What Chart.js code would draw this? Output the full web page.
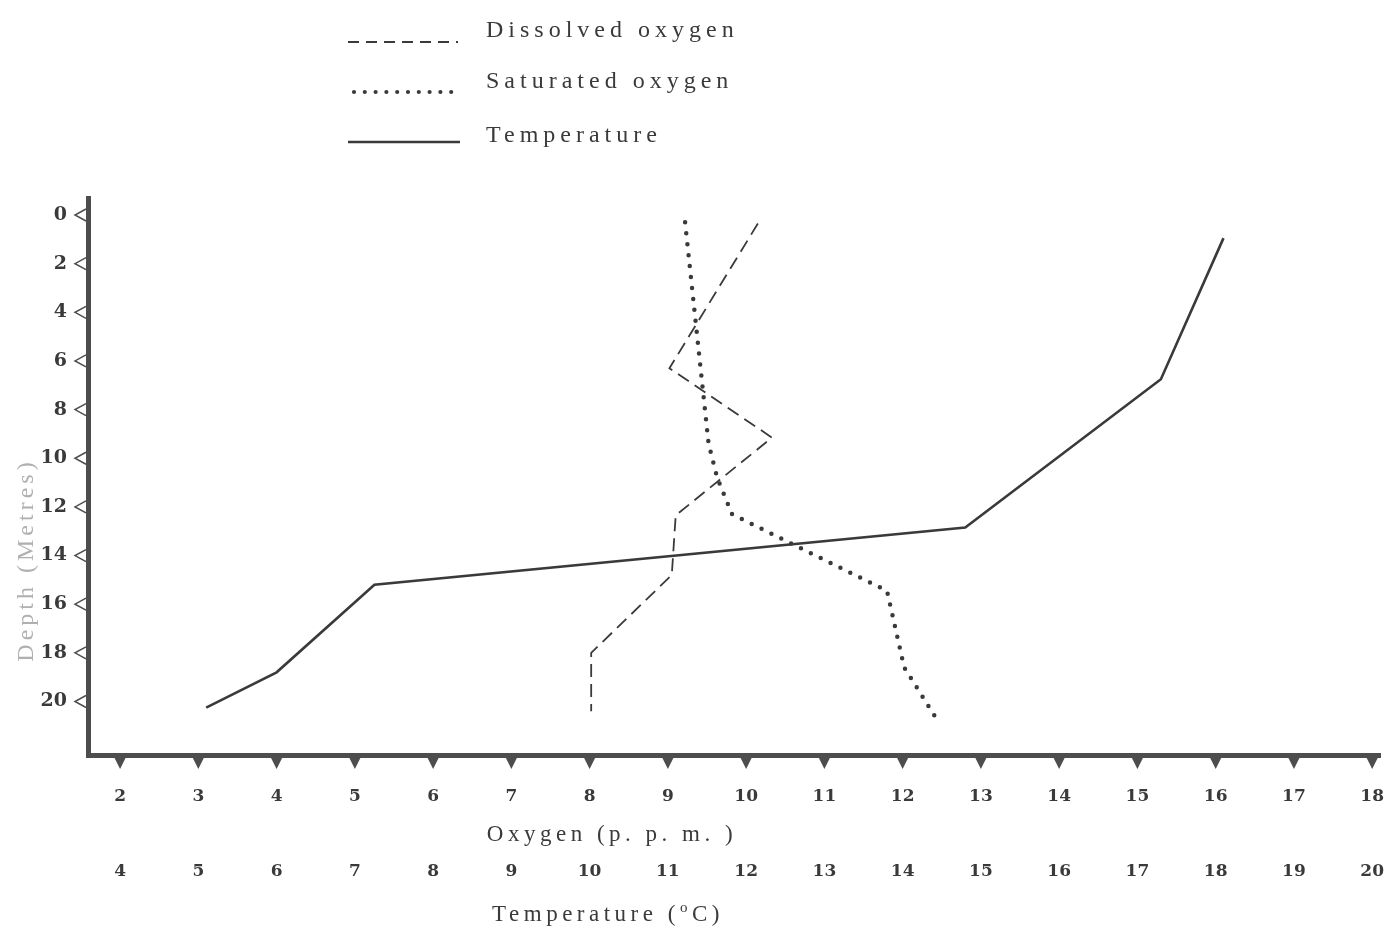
<!DOCTYPE html>
<html>
<head>
<meta charset="utf-8">
<title>Depth profile: oxygen and temperature</title>
<script src="https://cdn.jsdelivr.net/npm/chart.js@4.4.1/dist/chart.umd.min.js"></script>
<style>
  html, body { margin: 0; padding: 0; background: #fff; }
  #wrap { position: relative; width: 1391px; height: 932px; overflow: hidden; }
  #wrap canvas, #wrap svg { position: absolute; left: 0; top: 0; }
  svg text { font-family: 'Liberation Serif', serif; fill: #3a3a3a; }
</style>
</head>
<body>
<div id="wrap">
  <canvas id="profile-chart" width="1391" height="932"></canvas>
  <svg width="1391" height="932" viewBox="0 0 1391 932">
    <!-- legend samples -->
    <line x1="348" y1="42" x2="458" y2="42" stroke="#3a3a3a" stroke-width="1.8" stroke-dasharray="11 7"/>
    <line x1="354" y1="92" x2="462" y2="92" stroke="#3a3a3a" stroke-width="4.2" stroke-linecap="round" stroke-dasharray="0 10.8"/>
    <line x1="348" y1="142" x2="460" y2="142" stroke="#3a3a3a" stroke-width="2.6"/>
    <text x="486" y="37" font-size="24" letter-spacing="5">Dissolved oxygen</text>
    <text x="486" y="88" font-size="24" letter-spacing="5">Saturated oxygen</text>
    <text x="486" y="142" font-size="24" letter-spacing="5">Temperature</text>
    <!-- axis titles -->
    <text x="612" y="841" font-size="23" letter-spacing="4.5" text-anchor="middle">Oxygen (p. p. m. )</text>
    <text x="608" y="921" font-size="23" letter-spacing="4.5" text-anchor="middle">Temperature (<tspan font-size="15" dy="-9">o</tspan><tspan dy="9">C)</tspan></text>
    <text transform="translate(33,560) rotate(-90)" font-size="24" letter-spacing="4" text-anchor="middle" style="fill:#b0b0b0">Depth (Metres)</text>
  </svg>
</div>
<script>
// Tick labels
const depthTicks = [0, 2, 4, 6, 8, 10, 12, 14, 16, 18, 20];
const oxygenTicks = [2, 3, 4, 5, 6, 7, 8, 9, 10, 11, 12, 13, 14, 15, 16, 17, 18];
const temperatureTicks = [4, 5, 6, 7, 8, 9, 10, 11, 12, 13, 14, 15, 16, 17, 18, 19, 20];

// Dissolved oxygen (p.p.m.) against depth (m)
const dissolvedDepth  = [0.35, 6.3, 9.15, 12.35, 14.8, 18.0, 20.4];
const dissolvedOxygen = [10.15, 9.02, 10.33, 9.1, 9.05, 8.02, 8.02];

// Saturated oxygen (p.p.m.) against depth (m)
const saturatedDepth  = [0.3, 9.4, 10.8, 12.3, 15.45, 18.6, 20.65];
const saturatedOxygen = [9.22, 9.52, 9.63, 9.82, 11.8, 12.02, 12.42];

// Temperature (deg C) against depth (m)
const temperatureDepth  = [0.95, 6.75, 12.85, 15.2, 18.8, 20.25];
const temperatureValues = [18.1, 17.3, 14.8, 7.25, 6.0, 5.1];

const INK = '#3a3a3a';
const AXIS = '#4d4d4d';
const SERIF = "'DejaVu Serif', serif";

const toPoints = (xs, ys) => xs.map((x, i) => ({ x, y: ys[i] }));

// keep the horizontal axes from reserving room for edge labels
const fixHeight = h => s => { s.height = h; s.paddingLeft = 0; s.paddingRight = 0; };

// small triangles on both axes, placed through the scales
const tickMarks = {
  id: 'tickMarks',
  afterDraw(chart) {
    const { ctx, chartArea } = chart;
    const x = chart.scales.x;
    const y = chart.scales.y;
    ctx.save();
    ctx.strokeStyle = AXIS;
    ctx.lineWidth = 1.5;
    depthTicks.forEach(v => {
      const py = y.getPixelForValue(v);
      ctx.beginPath();
      ctx.moveTo(chartArea.left - 2, py - 6);
      ctx.lineTo(chartArea.left - 13, py);
      ctx.lineTo(chartArea.left - 2, py + 6);
      ctx.stroke();
    });
    ctx.fillStyle = AXIS;
    oxygenTicks.forEach(v => {
      const px = x.getPixelForValue(v);
      ctx.beginPath();
      ctx.moveTo(px - 6, chartArea.bottom + 2);
      ctx.lineTo(px + 6, chartArea.bottom + 2);
      ctx.lineTo(px, chartArea.bottom + 14);
      ctx.closePath();
      ctx.fill();
    });
    ctx.restore();
  }
};

new Chart(document.getElementById('profile-chart'), {
  type: 'scatter',
  data: {
    datasets: [
      {
        label: 'Dissolved oxygen',
        data: toPoints(dissolvedOxygen, dissolvedDepth),
        xAxisID: 'x', yAxisID: 'y',
        showLine: true,
        borderColor: INK,
        borderWidth: 1.8,
        borderDash: [13, 7],
        pointRadius: 0
      },
      {
        label: 'Saturated oxygen',
        data: toPoints(saturatedOxygen, saturatedDepth),
        xAxisID: 'x', yAxisID: 'y',
        showLine: true,
        borderColor: INK,
        borderWidth: 4.5,
        borderDash: [0, 11],
        borderCapStyle: 'round',
        pointRadius: 0
      },
      {
        label: 'Temperature',
        data: toPoints(temperatureValues, temperatureDepth),
        xAxisID: 'xT', yAxisID: 'y',
        showLine: true,
        borderColor: INK,
        borderWidth: 2.6,
        pointRadius: 0
      }
    ]
  },
  options: {
    responsive: false,
    devicePixelRatio: 1,
    animation: false,
    layout: { padding: { top: 198, right: 11, bottom: 0, left: 0 } },
    plugins: { legend: { display: false }, tooltip: { enabled: false } },
    scales: {
      y: {
        type: 'linear',
        position: 'left',
        reverse: true,
        min: -0.7,
        max: 22.2,
        afterFit: s => { s.width = 88; },
        afterBuildTicks: s => { s.ticks = depthTicks.map(v => ({ value: v })); },
        grid: { display: false },
        border: { display: true, width: 5, color: AXIS },
        ticks: { padding: 13, color: INK, font: { family: SERIF, size: 19, weight: 'bold' } }
      },
      x: {
        type: 'linear',
        position: 'bottom',
        weight: 0,
        min: 1.59,
        max: 18.1,
        afterFit: fixHeight(62),
        afterBuildTicks: s => { s.ticks = oxygenTicks.map(v => ({ value: v })); },
        grid: { display: false },
        border: { display: true, width: 5, color: AXIS },
        ticks: { padding: 23, maxRotation: 0, color: INK, font: { family: SERIF, size: 17, weight: 'bold' } }
      },
      xT: {
        type: 'linear',
        axis: 'x',
        position: 'bottom',
        weight: 1,
        min: 3.59,
        max: 20.1,
        afterFit: fixHeight(115),
        afterBuildTicks: s => { s.ticks = temperatureTicks.map(v => ({ value: v })); },
        grid: { display: false },
        border: { display: false },
        ticks: { padding: 36, maxRotation: 0, color: INK, font: { family: SERIF, size: 17, weight: 'bold' } }
      }
    }
  },
  plugins: [tickMarks]
});
</script>
</body>
</html>
